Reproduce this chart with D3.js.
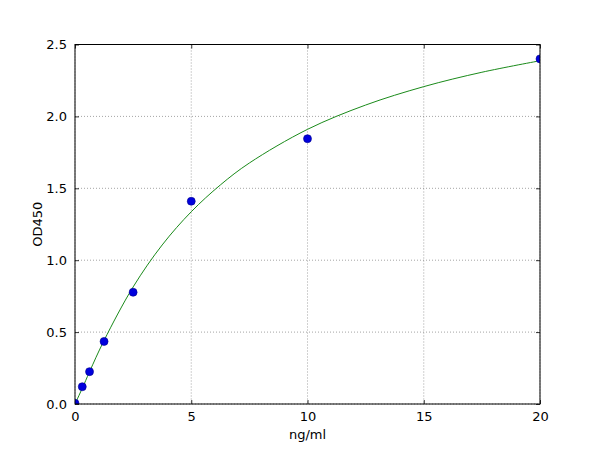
<!DOCTYPE html>
<html>
<head>
<meta charset="utf-8">
<script src="https://cdn.jsdelivr.net/npm/d3@7"></script>
<style>
  body { margin: 0; background: #fff; }
  svg { font-family: "DejaVu Sans", sans-serif; }
</style>
</head>
<body>
<div id="chart"></div>
<script>
// standard points (ng/ml vs OD450)
const concentrations = [0, 0.3125, 0.625, 1.25, 2.5, 5, 10, 20];
const odValues = [0.005, 0.12, 0.225, 0.435, 0.777, 1.41, 1.845, 2.40];

// fitted curve
const fitX = [0, 0.3125, 0.625, 1.25, 2.5, 3.75, 5, 6.25, 7.5, 10, 12.5, 15, 17.5, 20];
const fitY = [0, 0.109, 0.224, 0.442, 0.814, 1.106, 1.337, 1.523, 1.676, 1.91, 2.079, 2.207, 2.307, 2.387];

const xTicks = [0, 5, 10, 15, 20];
const yTicks = [0, 0.5, 1.0, 1.5, 2.0, 2.5];

const width = 600, height = 450;
const margin = { top: 44.5, right: 60, bottom: 46, left: 75 };
const innerW = width - margin.left - margin.right;
const innerH = height - margin.top - margin.bottom;

const svg = d3.select("#chart").append("svg")
    .attr("width", width)
    .attr("height", height);

svg.append("defs").append("clipPath")
    .attr("id", "plot-clip")
  .append("rect")
    .attr("width", innerW)
    .attr("height", innerH);

const g = svg.append("g")
    .attr("transform", `translate(${margin.left},${margin.top})`);

const x = d3.scaleLinear().domain([0, 20]).range([0, innerW]);
const y = d3.scaleLinear().domain([0, 2.5]).range([innerH, 0]);

// grid
g.append("g").selectAll("line")
    .data(xTicks)
    .join("line")
    .attr("x1", d => x(d)).attr("x2", d => x(d))
    .attr("y1", 0).attr("y2", innerH)
    .attr("stroke", "#666")
    .attr("stroke-width", 0.6)
    .attr("stroke-dasharray", "1,2");

g.append("g").selectAll("line")
    .data(yTicks)
    .join("line")
    .attr("x1", 0).attr("x2", innerW)
    .attr("y1", d => y(d)).attr("y2", d => y(d))
    .attr("stroke", "#666")
    .attr("stroke-width", 0.6)
    .attr("stroke-dasharray", "1,2");

// axes with inward ticks
const xAxis = g.append("g")
    .attr("transform", `translate(0,${innerH})`)
    .call(d3.axisBottom(x).tickValues(xTicks).tickSizeInner(-4).tickSizeOuter(0).tickPadding(8).tickFormat(d3.format("d")));
const xAxisTop = g.append("g")
    .call(d3.axisTop(x).tickValues(xTicks).tickSizeInner(-4).tickSizeOuter(0).tickFormat(""));
const yAxis = g.append("g")
    .call(d3.axisLeft(y).tickValues(yTicks).tickSizeInner(-4).tickSizeOuter(0).tickPadding(8).tickFormat(d3.format(".1f")));
const yAxisRight = g.append("g")
    .attr("transform", `translate(${innerW},0)`)
    .call(d3.axisRight(y).tickValues(yTicks).tickSizeInner(-4).tickSizeOuter(0).tickFormat(""));

[xAxis, xAxisTop, yAxis, yAxisRight].forEach(a => {
    a.select(".domain").remove();
    a.selectAll(".tick line").attr("stroke", "#000").attr("stroke-width", 0.8);
    a.selectAll("text")
        .attr("fill", "#000")
        .style("font-size", "13px")
        .style("font-family", "DejaVu Sans, sans-serif");
});

// fitted curve
const line = d3.line()
    .x((d, i) => x(fitX[i]))
    .y(d => y(d))
    .curve(d3.curveCatmullRom.alpha(0.5));

const plot = g.append("g").attr("clip-path", "url(#plot-clip)");

plot.append("path")
    .datum(fitY)
    .attr("fill", "none")
    .attr("stroke", "#1a8a1a")
    .attr("stroke-width", 1)
    .attr("d", line);

// data points
plot.selectAll("circle")
    .data(odValues)
    .join("circle")
    .attr("cx", (d, i) => x(concentrations[i]))
    .attr("cy", d => y(d))
    .attr("r", 4)
    .attr("fill", "#0000dd")
    .attr("stroke", "#00008b")
    .attr("stroke-width", 0.6);

// frame
g.append("rect")
    .attr("width", innerW)
    .attr("height", innerH)
    .attr("fill", "none")
    .attr("stroke", "#000")
    .attr("stroke-width", 1);

// axis labels
svg.append("text")
    .attr("x", margin.left + innerW / 2)
    .attr("y", 439)
    .attr("text-anchor", "middle")
    .style("font-size", "13px")
    .text("ng/ml");

svg.append("text")
    .attr("transform", `translate(42,${margin.top + innerH / 2}) rotate(-90)`)
    .attr("text-anchor", "middle")
    .style("font-size", "13px")
    .text("OD450");
</script>
</body>
</html>
